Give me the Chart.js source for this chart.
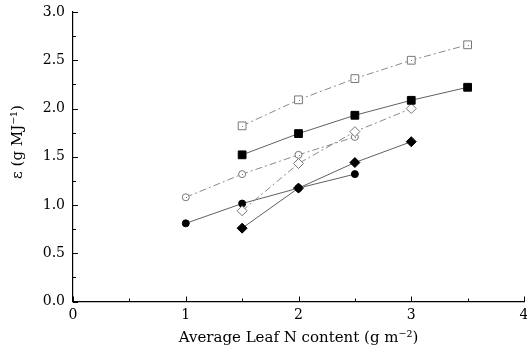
<!DOCTYPE html>
<html>
<head>
<meta charset="utf-8">
<script src="https://cdn.jsdelivr.net/npm/chart.js@4/dist/chart.umd.min.js"></script>
<style>
html,body{margin:0;padding:0;background:#fff;overflow:hidden;}
#wrap{width:527px;height:351px;overflow:hidden;}
canvas{display:block;}
</style>
</head>
<body>
<div id="wrap"><canvas id="c" width="545" height="351"></canvas></div>
<script>
const xTicks = [0, 1, 2, 3, 4];
const yTicks = [0, 0.5, 1.0, 1.5, 2.0, 2.5, 3.0];
const xTitle = 'Average Leaf N content (g m⁻²)';
const yTitle = 'ε (g MJ⁻¹)';

const openSquareX = [1.5, 2, 2.5, 3, 3.5];
const openSquareY = [1.82, 2.09, 2.31, 2.50, 2.66];

const filledSquareX = [1.5, 2, 2.5, 3, 3.5];
const filledSquareY = [1.52, 1.74, 1.93, 2.085, 2.22];

const openDiamondX = [1.5, 2, 2.5, 3];
const openDiamondY = [0.94, 1.43, 1.76, 2.00];

const openCircleX = [1, 1.5, 2, 2.5];
const openCircleY = [1.08, 1.32, 1.52, 1.705];

const filledCircleX = [1, 1.5, 2, 2.5];
const filledCircleY = [0.81, 1.015, 1.175, 1.32];

const filledDiamondX = [1.5, 2, 2.5, 3];
const filledDiamondY = [0.76, 1.175, 1.44, 1.656];

const pts = (xs, ys) => xs.map((x, i) => ({x: x, y: ys[i]}));
const DASHDOT = [7, 3, 2, 3];
const serif = '"DejaVu Serif", "Liberation Serif", serif';
const TARGET_RIGHT = 524;

const datasets = [
  {data: pts(openSquareX, openSquareY), borderColor:'#8a8a8a', borderDash:DASHDOT, borderWidth:1,
   pointStyle:'rect', pointRadius:5.5, pointBackgroundColor:'#fff', pointBorderColor:'#777', pointBorderWidth:1, open:true},
  {data: pts(filledSquareX, filledSquareY), borderColor:'#606060', borderWidth:1,
   pointStyle:'rect', pointRadius:5.5, pointBackgroundColor:'#000', pointBorderColor:'#000', pointBorderWidth:1},
  {data: pts(openDiamondX, openDiamondY), borderColor:'#8a8a8a', borderDash:DASHDOT, borderWidth:1,
   pointStyle:'rectRot', pointRadius:5, pointBackgroundColor:'#fff', pointBorderColor:'#777', pointBorderWidth:1},
  {data: pts(openCircleX, openCircleY), borderColor:'#8a8a8a', borderDash:DASHDOT, borderWidth:1,
   pointStyle:'circle', pointRadius:3.5, pointBackgroundColor:'#fff', pointBorderColor:'#777', pointBorderWidth:1, open:true},
  {data: pts(filledCircleX, filledCircleY), borderColor:'#606060', borderWidth:1,
   pointStyle:'circle', pointRadius:3.5, pointBackgroundColor:'#000', pointBorderColor:'#000', pointBorderWidth:1},
  {data: pts(filledDiamondX, filledDiamondY), borderColor:'#606060', borderWidth:1,
   pointStyle:'rectRot', pointRadius:5, pointBackgroundColor:'#000', pointBorderColor:'#000', pointBorderWidth:1}
];

const inwardTicks = {
  id: 'inwardTicks',
  afterDraw(chart) {
    const ctx = chart.ctx, xs = chart.scales.x, ys = chart.scales.y;
    const left = xs.getPixelForValue(0), bottom = ys.getPixelForValue(0);
    ctx.save();
    ctx.strokeStyle = '#000';
    ctx.lineWidth = 1;
    for (let v = 0; v <= 3.0001; v += 0.25) {
      const y = Math.round(ys.getPixelForValue(v)) + 0.5;
      const len = (Math.abs(v * 2 - Math.round(v * 2)) < 1e-6) ? 5 : 3;
      ctx.beginPath(); ctx.moveTo(left, y); ctx.lineTo(left + len, y); ctx.stroke();
    }
    for (let v = 0; v <= 4.0001; v += 0.5) {
      const x = Math.round(xs.getPixelForValue(v)) + 0.5;
      const len = (Math.abs(v - Math.round(v)) < 1e-6) ? 5 : 3;
      ctx.beginPath(); ctx.moveTo(x, bottom); ctx.lineTo(x, bottom - len); ctx.stroke();
    }
    // centre dots of open markers
    chart.data.datasets.forEach((ds, i) => {
      if (!ds.open) return;
      ctx.fillStyle = '#777';
      chart.getDatasetMeta(i).data.forEach(p => {
        ctx.fillRect(Math.round(p.x), Math.round(p.y), 1, 1);
      });
    });
    // y axis title
    ctx.fillStyle = '#000';
    ctx.font = '15px ' + serif;
    ctx.textAlign = 'center';
    ctx.textBaseline = 'middle';
    ctx.translate(18, 142);
    ctx.rotate(-Math.PI / 2);
    ctx.fillText(yTitle, 0, 0);
    ctx.restore();
  }
};

const chart = new Chart(document.getElementById('c'), {
  type: 'line',
  data: {datasets: datasets},
  options: {
    responsive: false,
    animation: false,
    devicePixelRatio: 1,
    layout: {padding: {top: 12, right: 21, bottom: 0, left: 0}},
    plugins: {legend: {display: false}, tooltip: {enabled: false}},
    elements: {line: {tension: 0, fill: false}},
    scales: {
      x: {
        type: 'linear', min: 0, max: 4,
        afterBuildTicks: s => { s.ticks = xTicks.map(v => ({value: v})); },
        afterFit: s => { s.height = 49.5; s.paddingLeft = 0; s.paddingRight = 0; },
        grid: {display: false, drawTicks: false},
        border: {display: true, color: '#000', width: 1.2},
        ticks: {color: '#000', padding: 5, font: {family: serif, size: 14}, maxRotation: 0,
                callback: v => String(v)},
        title: {display: true, text: xTitle, color: '#000',
                font: {family: serif, size: 15}, padding: {top: 0, bottom: 4}}
      },
      y: {
        type: 'linear', min: 0, max: 3,
        afterBuildTicks: s => { s.ticks = yTicks.map(v => ({value: v})); },
        afterFit: s => { s.width = 73; s.paddingTop = 0; s.paddingBottom = 0; },
        grid: {display: false, drawTicks: false},
        border: {display: true, color: '#000', width: 1.2},
        ticks: {color: '#000', padding: 8, font: {family: serif, size: 14},
                callback: v => Number(v).toFixed(1)},
        title: {display: false}
      }
    }
  },
  plugins: [inwardTicks]
});
for (let k = 0; k < 3; k++) {
  const dx = TARGET_RIGHT - chart.scales.x.getPixelForValue(4);
  if (Math.abs(dx) < 0.5) break;
  chart.options.layout.padding.right -= dx;
  chart.update();
}
</script>
</body>
</html>
